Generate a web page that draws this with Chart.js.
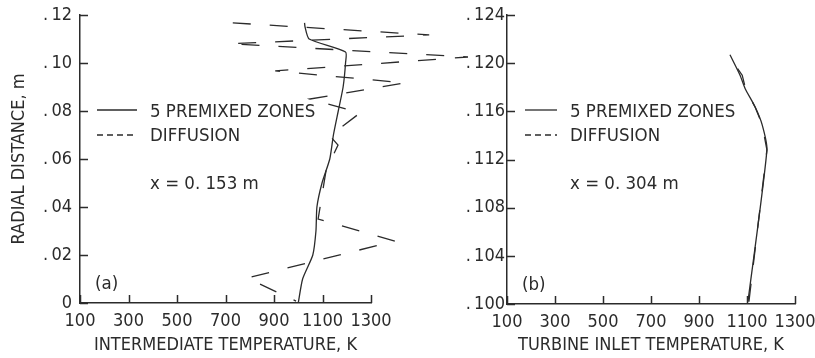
<!DOCTYPE html>
<html>
<head>
<meta charset="utf-8">
<script src="https://cdn.jsdelivr.net/npm/chart.js@4.4.1/dist/chart.umd.min.js"></script>
<style>
  html, body { margin: 0; padding: 0; background: #fff; }
  #wrap { position: relative; width: 815px; height: 358px; }
  #wrap canvas { position: absolute; left: 0; top: 0; }
</style>
</head>
<body>
<div id="wrap">
  <canvas id="panel-a" width="815" height="358"></canvas>
  <canvas id="panel-b" width="815" height="358"></canvas>
</div>
<script>
// ---------- Data (temperature K vs radial distance m) ----------
// (a) intermediate plane, x = 0.153 m
const aPremixedT = [1000, 1018, 1060, 1073, 1077, 1098, 1130, 1145, 1165, 1185, 1195, 1195, 1045, 1028, 1026];
const aPremixedR = [0, 0.01, 0.02, 0.03, 0.04, 0.05, 0.06, 0.07, 0.08, 0.09, 0.10, 0.1046, 0.110, 0.115, 0.1167];
const aDiffusionT = [730, 1540, 720, 1700, 905, 1440, 1048, 1255, 1131, 1164, 1115, 1082, 1399, 789, 991];
const aDiffusionR = [0.1167, 0.1117, 0.108, 0.1025, 0.0967, 0.0917, 0.085, 0.0792, 0.0696, 0.0658, 0.0554, 0.035, 0.0258, 0.0104, 0.0008];

// (b) turbine inlet, x = 0.304 m
const bPremixedT = [1104, 1183, 1163, 1133, 1092, 1071, 1029];
const bPremixedR = [0.1002, 0.1128, 0.1149, 0.1164, 0.1179, 0.119, 0.1207];
const bDiffusionT = [1108, 1183, 1163, 1135, 1095, 1080, 1048];
const bDiffusionR = [0.1002, 0.1128, 0.1149, 0.1163, 0.1178, 0.1190, 0.1199];

// ---------- Style ----------
const INK = '#2b2b2b';
const FONT = "'DejaVu Sans Condensed', sans-serif";
const TICK = 8;

Chart.defaults.font.family = FONT;
Chart.defaults.font.size = 18;
Chart.defaults.color = INK;

function toPoints(xs, ys) {
  return xs.map((v, i) => ({ x: v, y: ys[i] }));
}

function radialLabel(digits) {
  return v => (Math.abs(v) < 1e-9 ? '0' : '.\u2009' + v.toFixed(digits).split('.')[1]);
}

// inward ticks, legend and notes drawn on top of the chart
function decorPlugin(cfg) {
  return {
    id: 'decor',
    afterDraw(chart) {
      const { ctx, chartArea: area, scales: { x, y } } = chart;
      ctx.save();
      ctx.strokeStyle = INK;
      ctx.lineWidth = 1.5;
      ctx.beginPath();
      x.ticks.forEach(t => {
        const px = Math.round(x.getPixelForValue(t.value)) + 0.5;
        ctx.moveTo(px, area.bottom);
        ctx.lineTo(px, area.bottom - TICK);
      });
      y.ticks.forEach(t => {
        const py = Math.round(y.getPixelForValue(t.value)) + 0.5;
        ctx.moveTo(area.left, py);
        ctx.lineTo(area.left + TICK, py);
      });
      ctx.stroke();

      // legend
      const ly1 = area.top + 95, ly2 = area.top + 120;
      ctx.lineWidth = 1.3;
      ctx.beginPath();
      ctx.moveTo(area.left + cfg.x0, ly1);
      ctx.lineTo(area.left + cfg.x1, ly1);
      ctx.stroke();
      ctx.setLineDash([6, 4]);
      ctx.beginPath();
      ctx.moveTo(area.left + cfg.x0, ly2);
      ctx.lineTo(area.left + cfg.x1, ly2);
      ctx.stroke();
      ctx.setLineDash([]);

      ctx.fillStyle = INK;
      ctx.font = '18.5px ' + FONT;
      ctx.textBaseline = 'middle';
      ctx.textAlign = 'left';
      ctx.fillText('5 PREMIXED ZONES', area.left + cfg.tx, area.top + 97);
      ctx.fillText('DIFFUSION', area.left + cfg.tx, area.top + 121);
      ctx.fillText(cfg.note, area.left + cfg.tx, area.top + 169);
      ctx.fillText(cfg.tag, area.left + 15, area.bottom - 19);
      ctx.restore();
    }
  };
}

function makePanel(canvasId, p) {
  return new Chart(document.getElementById(canvasId), {
    type: 'line',
    data: {
      datasets: [
        {
          label: '5 PREMIXED ZONES',
          data: toPoints(p.premT, p.premR),
          borderColor: INK,
          borderWidth: 1.3,
          pointRadius: 0,
          tension: 0.2,
          clip: false
        },
        {
          label: 'DIFFUSION',
          data: toPoints(p.diffT, p.diffR),
          borderColor: INK,
          borderWidth: 1.3,
          borderDash: [18, 19],
          pointRadius: 0,
          tension: 0,
          clip: false
        }
      ]
    },
    options: {
      responsive: false,
      animation: false,
      devicePixelRatio: 1,
      layout: { padding: p.padding },
      plugins: { legend: { display: false }, tooltip: { enabled: false } },
      scales: {
        x: {
          type: 'linear',
          min: 100, max: 1300,
          grid: { display: false, drawTicks: false },
          border: { display: true, color: INK, width: 1.5 },
          ticks: { stepSize: 200, padding: 8, maxRotation: 0, autoSkip: false, callback: v => String(v) },
          title: { display: true, text: p.xTitle, padding: { top: 0, bottom: 2 } },
          afterFit: s => { s.height = p.xHeight; s.paddingLeft = 0; s.paddingRight = 0; }
        },
        y: {
          type: 'linear',
          min: p.yMin, max: p.yMax,
          grid: { display: false, drawTicks: false },
          border: { display: true, color: INK, width: 1.5 },
          ticks: { stepSize: p.yStep, padding: p.yPad, callback: radialLabel(p.digits) },
          title: { display: !!p.yTitle, text: p.yTitle || '', padding: { top: 9, bottom: 0 } },
          afterFit: s => { s.width = 80; s.paddingTop = 0; s.paddingBottom = 0; }
        }
      }
    },
    plugins: [decorPlugin(p.decor)]
  });
}

makePanel('panel-a', {
  premT: aPremixedT, premR: aPremixedR,
  diffT: aDiffusionT, diffR: aDiffusionR,
  yMin: 0, yMax: 0.12, yStep: 0.02, digits: 2, yPad: 8,
  xTitle: 'INTERMEDIATE TEMPERATURE, K',
  yTitle: 'RADIAL DISTANCE, m',
  xHeight: 55,
  padding: { left: 0, right: 444, top: 15, bottom: 0 },
  decor: { x0: 17, x1: 57, tx: 70, note: 'x = 0. 153 m', tag: '(a)' }
});

makePanel('panel-b', {
  premT: bPremixedT, premR: bPremixedR,
  diffT: bDiffusionT, diffR: bDiffusionR,
  yMin: 0.100, yMax: 0.124, yStep: 0.004, digits: 3, yPad: 2,
  xTitle: 'TURBINE INLET TEMPERATURE, K',
  yTitle: '',
  xHeight: 54,
  padding: { left: 427, right: 20, top: 15, bottom: 0 },
  decor: { x0: 18, x1: 50, tx: 63, note: 'x = 0. 304 m', tag: '(b)' }
});
</script>
</body>
</html>
